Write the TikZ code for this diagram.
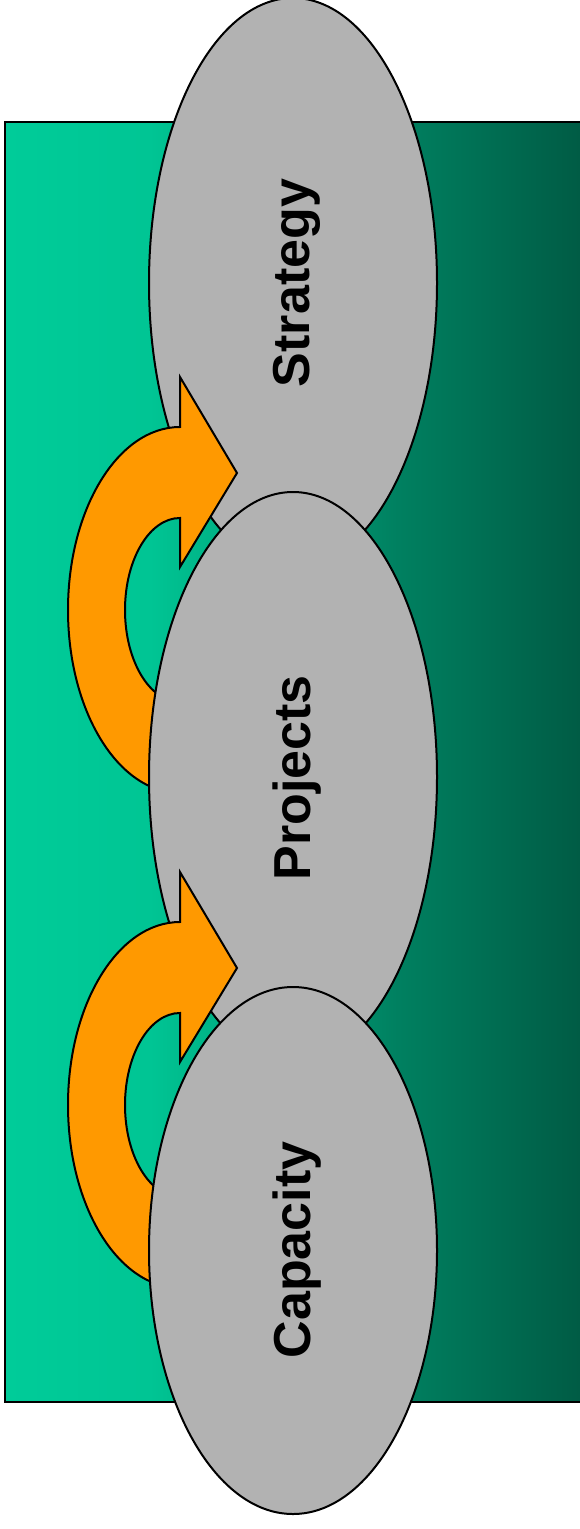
\documentclass[tikz,border=0pt]{standalone}
\usepackage{fontspec}
\setmainfont{Liberation Sans}
\usetikzlibrary{shapes.geometric}
\definecolor{tealleft}{RGB}{0,204,153}
\definecolor{tealnear}{RGB}{0,197,148}
\definecolor{tealmid}{RGB}{0,128,96}
\definecolor{tealright}{RGB}{0,92,69}
\definecolor{tealend}{RGB}{0,88,66}
\definecolor{bubblegray}{RGB}{178,178,178}
\definecolor{turnorange}{RGB}{255,153,0}
\pgfdeclarehorizontalshading{backfade}{100bp}{color(0bp)=(tealleft); color(25bp)=(tealleft); color(37.2bp)=(tealnear); color(58bp)=(tealmid); color(73.2bp)=(tealright); color(75bp)=(tealend); color(100bp)=(tealend)}
\begin{document}
\begin{tikzpicture}[x=0.5pt,y=-0.5pt]
                    \tikzset{
                        bubble/.style={draw, ellipse, fill=bubblegray, line width=1pt, inner sep=0pt, minimum width=144pt, minimum height=285pt},
                        lbl/.style={rotate=90, inner sep=0pt, font=\bfseries\fontsize{26}{30}\selectfont},
                        turn/.style={draw, fill=turnorange, line width=1pt, line join=miter}
                    }
                    \useasboundingbox (0,0) rectangle (579,1529);
                    \draw[line width=1.2pt, shading=backfade] (5,122) rectangle (600,1402);

                    \draw node[bubble] (strat) at (293,283) {};
                    \draw node[lbl] (stratlbl) at (297,283) {Strategy};
                    \draw[turn] (180,427) -- (180,377) -- (237,473) -- (180,567) -- (180,518)
                        arc[start angle=-90, end angle=-270, x radius=55, y radius=92] -- (180,793)
                        arc[start angle=90, end angle=270, x radius=112, y radius=183] -- cycle;

                    \draw node[bubble] (proj) at (293,777) {};
                    \draw node[lbl] (projlbl) at (297,778) {Projects};
                    \draw[turn, shift={(0,495)}] (180,427) -- (180,377) -- (237,473) -- (180,567) -- (180,518)
                        arc[start angle=-90, end angle=-270, x radius=55, y radius=92] -- (180,793)
                        arc[start angle=90, end angle=270, x radius=112, y radius=183] -- cycle;

                    \draw node[bubble, minimum height=263.5pt] (cap) at (293,1250.5) {};
                    \draw node[lbl] (caplbl) at (297,1250) {Capacity};
\end{tikzpicture}
\end{document}
